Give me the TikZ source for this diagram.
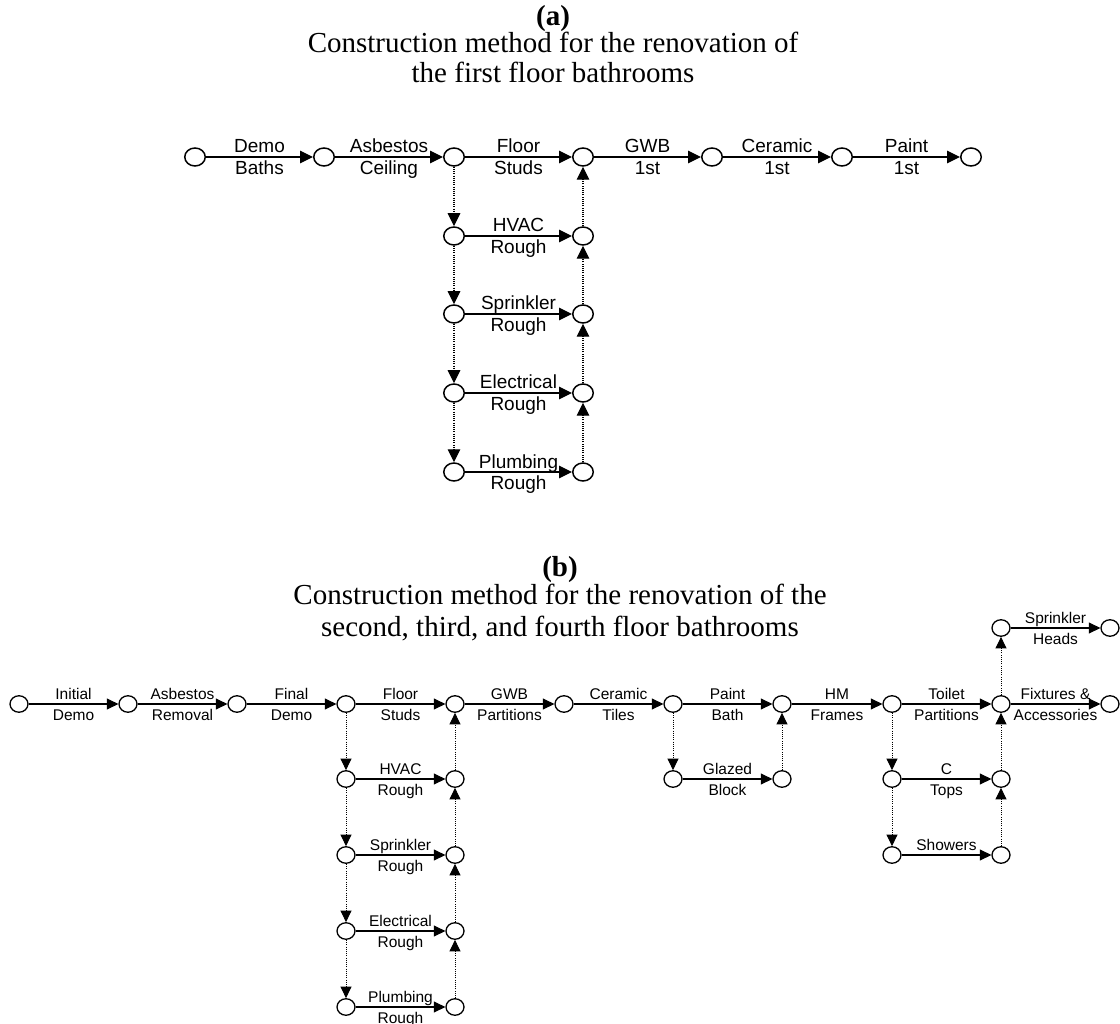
\documentclass[tikz,border=0pt]{standalone}
\usepackage{fontspec}
\setmainfont{Liberation Serif}
\newfontfamily\labfont{Liberation Sans}
\usetikzlibrary{arrows.meta,shapes.geometric,calc}

% activity arrow with a two-line label (upper above the line, lower below)
\newcommand{\actA}[4]{%
  \draw[arrA] (#1) -- (#2);
  \node[labA] (#1-up) at ($(#1)!0.5!(#2)+(0,-4)$) {#3};
  \node[labA] (#1-lo) at ($(#1)!0.5!(#2)+(0,17.5)$) {#4};}
\newcommand{\actB}[4]{%
  \draw[arrB] (#1) -- (#2);
  \node[labB] (#1-up) at ($(#1)!0.5!(#2)+(0,-4.7)$) {#3};
  \node[labB] (#1-lo) at ($(#1)!0.5!(#2)+(0,16)$) {#4};}

\begin{document}
\begin{tikzpicture}[x=1pt,y=-1pt,
  evA/.style={ellipse,draw,line width=1.5pt,minimum width=20.5pt,minimum height=18pt,inner sep=0pt},
  evB/.style={ellipse,draw,line width=1.3pt,minimum width=18pt,minimum height=16.5pt,inner sep=0pt},
  arrA/.style={line width=1.2pt,-{Triangle[length=13pt,width=12.5pt]}},
  arrB/.style={line width=1.1pt,-{Triangle[length=11.5pt,width=11pt]}},
  dumA/.style={line width=1.1pt,dash pattern=on 1pt off 1.2pt,-{Triangle[length=13pt,width=12.5pt]}},
  dumB/.style={line width=1pt,dash pattern=on 1pt off 1.2pt,-{Triangle[length=11.5pt,width=11pt]}},
  labA/.style={font=\labfont\fontsize{19}{21}\selectfont,anchor=base,inner sep=0pt},
  labB/.style={font=\labfont\fontsize{15.5}{17}\selectfont,anchor=base,inner sep=0pt},
  ttl/.style={font=\fontsize{29}{31}\selectfont,anchor=base,inner sep=0pt},
  ttlb/.style={font=\fontsize{29}{31}\selectfont\bfseries,anchor=base,inner sep=0pt}]
\useasboundingbox (0,0) rectangle (1120,1024);

% ---------- (a) first floor ----------
\node[ttlb] (ta)  at (553,26) {(a)};
\node[ttl]  (ta1) at (553,53) {Construction method for the renovation of};
\node[ttl]  (ta2) at (553,83) {the first floor bathrooms};

\foreach \n/\x in {1/195,2/324,3/454,4/583,5/712,6/842,7/971}
  \node[evA] (a\n) at (\x,157) {};
\foreach \r/\y in {1/236,2/314,3/393,4/472}{
  \node[evA] (aL\r) at (454,\y) {};
  \node[evA] (aR\r) at (583,\y) {};}

\actA{a1}{a2}{Demo}{Baths}
\actA{a2}{a3}{Asbestos}{Ceiling}
\actA{a3}{a4}{Floor}{Studs}
\actA{a4}{a5}{GWB}{1st}
\actA{a5}{a6}{Ceramic}{1st}
\actA{a6}{a7}{Paint}{1st}
\actA{aL1}{aR1}{HVAC}{Rough}
\actA{aL2}{aR2}{Sprinkler}{Rough}
\actA{aL3}{aR3}{Electrical}{Rough}
\actA{aL4}{aR4}{Plumbing}{Rough}

\draw[dumA] (a3) -- (aL1);
\draw[dumA] (aL1) -- (aL2);
\draw[dumA] (aL2) -- (aL3);
\draw[dumA] (aL3) -- (aL4);
\draw[dumA] (aR4) -- (aR3);
\draw[dumA] (aR3) -- (aR2);
\draw[dumA] (aR2) -- (aR1);
\draw[dumA] (aR1) -- (a4);

% ---------- (b) second to fourth floors ----------
\node[ttlb] (tb)  at (560,576) {(b)};
\node[ttl]  (tb1) at (560,604) {Construction method for the renovation of the};
\node[ttl]  (tb2) at (560,636) {second, third, and fourth floor bathrooms};

\foreach \n/\x in {1/19,2/128,3/237,4/346,5/455,6/564,7/673,8/782,9/892,10/1001,11/1110}
  \node[evB] (b\n) at (\x,704) {};
\foreach \r/\y in {1/779,2/855,3/931,4/1007}{
  \node[evB] (bL\r) at (346,\y) {};
  \node[evB] (bR\r) at (455,\y) {};}
\node[evB] (g1) at (673,779) {};
\node[evB] (g2) at (782,779) {};
\node[evB] (c1) at (892,779) {};
\node[evB] (c2) at (1001,779) {};
\node[evB] (s1) at (892,855) {};
\node[evB] (s2) at (1001,855) {};
\node[evB] (h1) at (1001,628) {};
\node[evB] (h2) at (1110,628) {};

\actB{b1}{b2}{Initial}{Demo}
\actB{b2}{b3}{Asbestos}{Removal}
\actB{b3}{b4}{Final}{Demo}
\actB{b4}{b5}{Floor}{Studs}
\actB{b5}{b6}{GWB}{Partitions}
\actB{b6}{b7}{Ceramic}{Tiles}
\actB{b7}{b8}{Paint}{Bath}
\actB{b8}{b9}{HM}{Frames}
\actB{b9}{b10}{Toilet}{Partitions}
\actB{b10}{b11}{Fixtures \&}{Accessories}
\actB{bL1}{bR1}{HVAC}{Rough}
\actB{bL2}{bR2}{Sprinkler}{Rough}
\actB{bL3}{bR3}{Electrical}{Rough}
\actB{bL4}{bR4}{Plumbing}{Rough}
\actB{g1}{g2}{Glazed}{Block}
\actB{c1}{c2}{C}{Tops}
\actB{h1}{h2}{Sprinkler}{Heads}
\draw[arrB] (s1) -- (s2);
\node[labB] (s1-up) at ($(s1)!0.5!(s2)+(0,-4.7)$) {Showers};

\draw[dumB] (b4) -- (bL1);
\draw[dumB] (bL1) -- (bL2);
\draw[dumB] (bL2) -- (bL3);
\draw[dumB] (bL3) -- (bL4);
\draw[dumB] (bR4) -- (bR3);
\draw[dumB] (bR3) -- (bR2);
\draw[dumB] (bR2) -- (bR1);
\draw[dumB] (bR1) -- (b5);
\draw[dumB] (b7) -- (g1);
\draw[dumB] (g2) -- (b8);
\draw[dumB] (b9) -- (c1);
\draw[dumB] (c1) -- (s1);
\draw[dumB] (s2) -- (c2);
\draw[dumB] (c2) -- (b10);
\draw[dumB] (b10) -- (h1);
\end{tikzpicture}
\end{document}
